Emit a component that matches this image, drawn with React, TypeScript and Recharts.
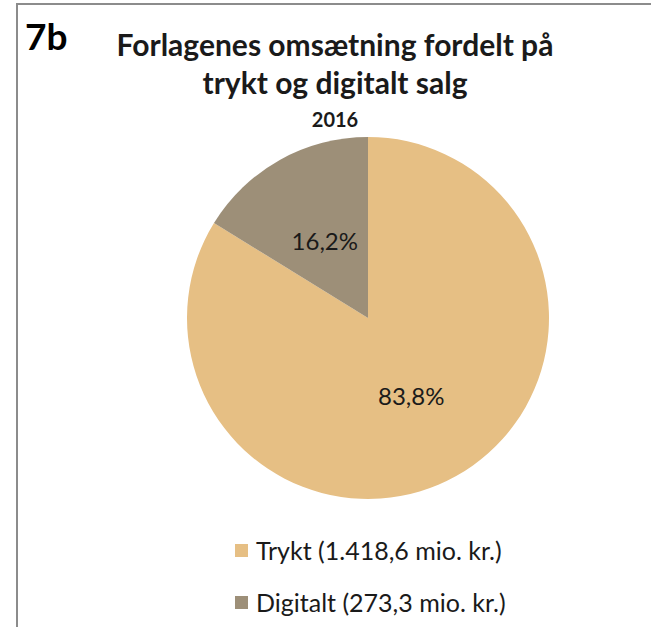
import React from "react";
import { PieChart, Pie, Cell } from "recharts";

const categories = ["Trykt (1.418,6 mio. kr.)", "Digitalt (273,3 mio. kr.)"];
const shares = [83.8, 16.2];
const colors = ["#E6BF84", "#9D8F78"];

const data = categories.map((name, i) => ({ name, value: shares[i] }));

const FONT = "Lato, 'Open Sans', sans-serif";
const RAD = Math.PI / 180;

const renderLabel = (props: any) => {
  const { cx, cy, midAngle, outerRadius, value } = props;
  const r = outerRadius * 0.49;
  const x = cx + r * Math.cos(-midAngle * RAD);
  const y = cy + r * Math.sin(-midAngle * RAD);
  return (
    <text
      x={x}
      y={y}
      textAnchor="middle"
      dominantBaseline="central"
      fill="#1a1a1a"
      fontSize={24}
      fontFamily={FONT}
    >
      {value.toFixed(1).replace(".", ",")}%
    </text>
  );
};

export default function App() {
  return (
    <div
      style={{
        position: "fixed",
        left: 0,
        top: 0,
        width: 651,
        height: 627,
        overflow: "hidden",
        background: "#fff",
      }}
    >
      <div
        style={{
          position: "absolute",
          left: 16,
          top: 3,
          width: 660,
          height: 660,
          border: "2px solid #8c8c8c",
          boxSizing: "border-box",
        }}
      />
      <div
        style={{
          position: "absolute",
          left: 25,
          top: 13,
          fontFamily: FONT,
          fontWeight: 700,
          fontSize: 37,
          color: "#000",
        }}
      >
        7b
      </div>
      <div
        style={{
          position: "absolute",
          left: 35,
          width: 600,
          top: 25,
          textAlign: "center",
          fontFamily: FONT,
          fontWeight: 700,
          fontSize: 30,
          lineHeight: "38px",
          color: "#1a1a1a",
        }}
      >
        Forlagenes omsætning fordelt på
        <br />
        trykt og digitalt salg
        <div style={{ fontSize: 20, lineHeight: "24px", marginTop: 6 }}>2016</div>
      </div>
      <div style={{ position: "absolute", left: 0, top: 0 }}>
        <PieChart width={651} height={627}>
          <Pie
            data={data}
            dataKey="value"
            nameKey="name"
            cx={363}
            cy={313}
            outerRadius={181}
            startAngle={90}
            endAngle={-270}
            stroke="none"
            label={renderLabel}
            labelLine={false}
            isAnimationActive={false}
          >
            {data.map((d, i) => (
              <Cell key={d.name} fill={colors[i]} />
            ))}
          </Pie>
        </PieChart>
      </div>
      {data.map((d, i) => (
        <div
          key={d.name}
          style={{
            position: "absolute",
            left: 235,
            top: 535 + i * 52,
            height: 30,
            display: "flex",
            alignItems: "center",
            fontFamily: FONT,
            fontSize: 25,
            lineHeight: "30px",
            color: "#1a1a1a",
            whiteSpace: "nowrap",
          }}
        >
          <span
            style={{
              width: 13,
              height: 13,
              background: colors[i],
              marginRight: 8,
              display: "inline-block",
            }}
          />
          {d.name}
        </div>
      ))}
    </div>
  );
}
